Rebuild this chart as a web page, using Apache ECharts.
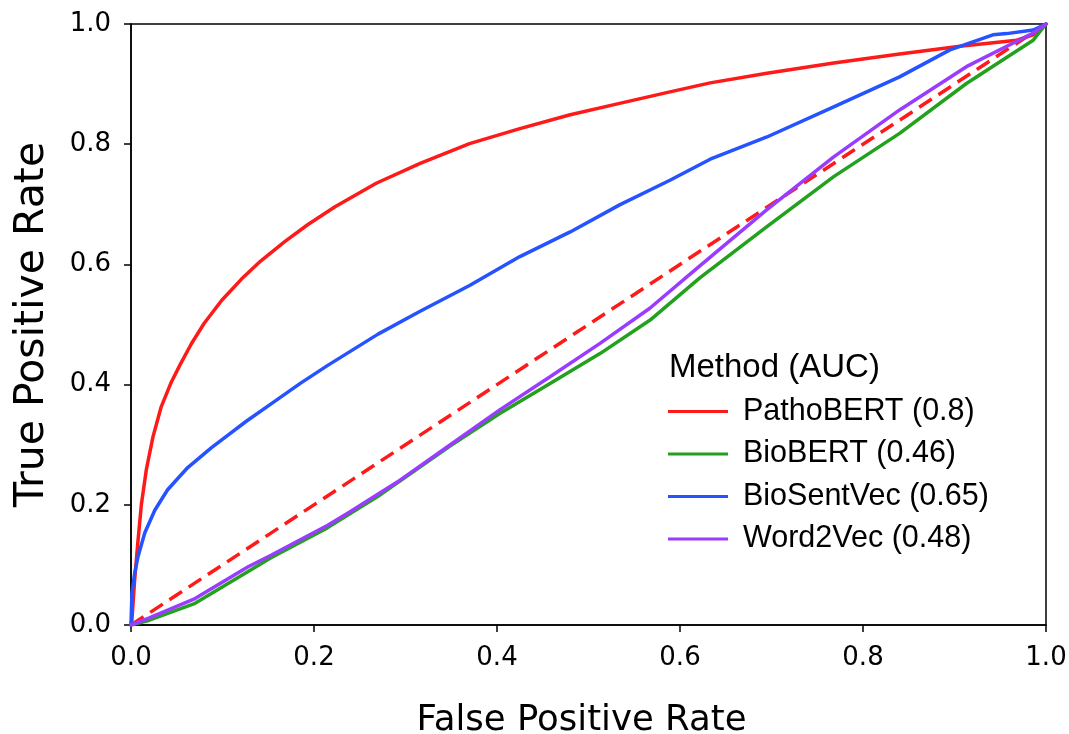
<!DOCTYPE html>
<html>
<head>
<meta charset="utf-8">
<script src="https://cdn.jsdelivr.net/npm/echarts@6/dist/echarts.min.js"></script>
<style>html,body{margin:0;padding:0;background:#fff;}#c{width:1069px;height:734px;}</style>
</head>
<body>
<div id="c"></div>
<script>
// ---- data ----
const xTicks = [0.0, 0.2, 0.4, 0.6, 0.8, 1.0];
const yTicks = [0.0, 0.2, 0.4, 0.6, 0.8, 1.0];

const seriesNames = ['PathoBERT (0.8)', 'BioBERT (0.46)', 'BioSentVec (0.65)', 'Word2Vec (0.48)'];

const pathoFPR = [0, 0.001, 0.004, 0.0077, 0.0113, 0.0167, 0.024, 0.033, 0.044, 0.054, 0.066, 0.080, 0.099, 0.121, 0.142, 0.168, 0.193, 0.223, 0.268, 0.316, 0.370, 0.425, 0.480, 0.534, 0.589, 0.633, 0.695, 0.768, 0.840, 0.906, 0.968, 0.986, 1.0];
const pathoTPR = [0, 0.008, 0.075, 0.141, 0.2, 0.258, 0.313, 0.363, 0.404, 0.434, 0.468, 0.502, 0.540, 0.576, 0.606, 0.638, 0.666, 0.696, 0.735, 0.768, 0.801, 0.826, 0.849, 0.868, 0.887, 0.902, 0.918, 0.935, 0.950, 0.963, 0.973, 0.982, 1.0];

const biobertFPR = [0, 0.02, 0.07, 0.128, 0.153, 0.215, 0.27, 0.349, 0.403, 0.458, 0.513, 0.567, 0.622, 0.695, 0.768, 0.840, 0.913, 0.986, 1.0];
const biobertTPR = [0, 0.008, 0.036, 0.089, 0.112, 0.162, 0.214, 0.298, 0.352, 0.402, 0.452, 0.507, 0.578, 0.663, 0.746, 0.818, 0.901, 0.973, 1.0];

const biosentFPR = [0, 0.001, 0.004, 0.0077, 0.015, 0.026, 0.040, 0.062, 0.088, 0.106, 0.126, 0.157, 0.185, 0.215, 0.27, 0.316, 0.370, 0.425, 0.480, 0.534, 0.589, 0.633, 0.695, 0.768, 0.840, 0.895, 0.942, 0.957, 0.986, 1.0];
const biosentTPR = [0, 0.053, 0.086, 0.114, 0.153, 0.191, 0.225, 0.262, 0.295, 0.316, 0.339, 0.372, 0.402, 0.432, 0.484, 0.522, 0.565, 0.613, 0.654, 0.699, 0.740, 0.775, 0.812, 0.862, 0.912, 0.957, 0.982, 0.984, 0.990, 1.0];

const w2vFPR = [0, 0.02, 0.07, 0.128, 0.153, 0.215, 0.239, 0.294, 0.349, 0.403, 0.458, 0.513, 0.567, 0.622, 0.695, 0.768, 0.840, 0.913, 0.986, 1.0];
const w2vTPR = [0, 0.012, 0.044, 0.097, 0.116, 0.166, 0.188, 0.241, 0.300, 0.358, 0.413, 0.469, 0.527, 0.598, 0.691, 0.779, 0.857, 0.929, 0.985, 1.0];

const chanceFPR = [0, 1];
const chanceTPR = [0, 1];

const colors = ['#ff1a1a', '#22a01e', '#2453ff', '#9a3cff'];

function zip(a, b) { return a.map((v, i) => [v, b[i]]); }

const chart = echarts.init(document.getElementById('c'), null, {renderer: 'canvas'});

const curves = [
  zip(pathoFPR, pathoTPR),
  zip(biobertFPR, biobertTPR),
  zip(biosentFPR, biosentTPR),
  zip(w2vFPR, w2vTPR)
];

const series = curves.map((d, i) => ({
  name: seriesNames[i],
  type: 'line',
  data: d,
  showSymbol: false,
  symbol: 'none',
  smooth: false,
  lineStyle: {color: colors[i], width: 3.5, join: 'round', cap: 'round'},
  itemStyle: {color: colors[i]},
  z: 3 + i
}));

series.push({
  name: 'chance',
  type: 'line',
  data: zip(chanceFPR, chanceTPR),
  showSymbol: false,
  symbol: 'none',
  lineStyle: {color: '#ff1a1a', width: 3.5, type: [15, 8]},
  z: 2
});

const tickFont = {fontFamily: 'DejaVu Sans', fontSize: 26, color: '#000'};

chart.setOption({
  animation: false,
  backgroundColor: '#fff',
  title: {
    text: 'Method (AUC)',
    left: 669,
    top: 351,
    padding: 0,
    textStyle: {fontFamily: 'Liberation Sans', fontSize: 33, fontWeight: 'normal', color: '#000'}
  },
  legend: {
    data: seriesNames,
    orient: 'vertical',
    left: 668,
    top: 396,
    padding: 0,
    itemWidth: 60,
    itemHeight: 3,
    itemGap: 11.5,
    icon: 'rect',
    textStyle: {fontFamily: 'Liberation Sans', fontSize: 30.5, color: '#000', lineHeight: 30.5, padding: [0, 0, 0, 10]}
  },
  grid: {
    left: 131, right: 23, top: 24, bottom: 109,
    outerBoundsMode: 'none',
    containLabel: false,
    show: true, borderColor: '#000', borderWidth: 1.5, backgroundColor: 'transparent'
  },
  xAxis: {
    type: 'value', min: 0, max: 1, interval: 0.2,
    name: 'False Positive Rate',
    nameLocation: 'middle', nameGap: 78,
    nameTextStyle: {fontFamily: 'DejaVu Sans', fontSize: 35.5, color: '#000', padding: [0, 14, 0, 0]},
    axisLine: {show: true, lineStyle: {color: '#000', width: 1.5}},
    axisTick: {show: true, length: 7, lineStyle: {color: '#000', width: 1.5}},
    axisLabel: Object.assign({margin: 20, formatter: v => v.toFixed(1)}, tickFont),
    splitLine: {show: false}
  },
  yAxis: {
    type: 'value', min: 0, max: 1, interval: 0.2,
    name: 'True Positive Rate',
    nameLocation: 'middle', nameGap: 78,
    nameTextStyle: {fontFamily: 'DejaVu Sans', fontSize: 41, color: '#000'},
    axisLine: {show: true, lineStyle: {color: '#000', width: 1.5}},
    axisTick: {show: true, length: 7, lineStyle: {color: '#000', width: 1.5}},
    axisLabel: Object.assign({margin: 20, formatter: v => v.toFixed(1)}, tickFont),
    splitLine: {show: false}
  },
  series: series
});
</script>
</body>
</html>
